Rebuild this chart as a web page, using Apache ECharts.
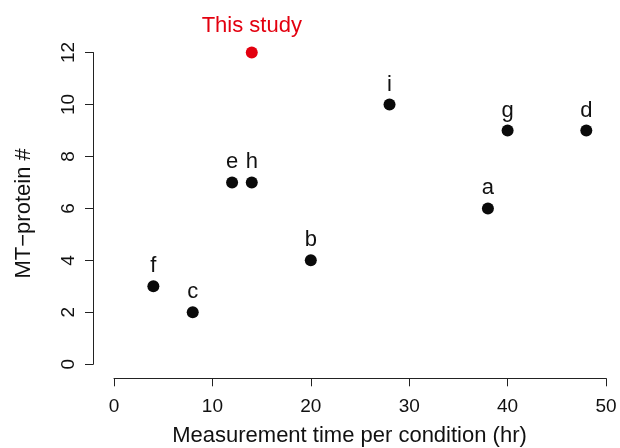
<!DOCTYPE html>
<html><head><meta charset="utf-8">
<script src="https://cdn.jsdelivr.net/npm/echarts@6/dist/echarts.min.js"></script>
<style>html,body{margin:0;padding:0;background:#fff}#c{width:620px;height:448px}</style>
</head><body><div id="c"></div>
<script>
const labels = ['a','b','c','d','e','f','g','h','i'];
const hours = [38, 20, 8, 48, 12, 4, 40, 14, 28];
const proteins = [6, 4, 2, 9, 7, 3, 9, 7, 10];
const studyLabel = 'This study';
const studyHours = 14;
const studyProteins = 12;
const xTicks = [0, 10, 20, 30, 40, 50];
const yTicks = [0, 2, 4, 6, 8, 10, 12];

const font = '"Liberation Sans", Arial, sans-serif';
const chart = echarts.init(document.getElementById('c'), null, {renderer: 'canvas'});
chart.setOption({
  animation: false,
  grid: {left: 114, right: 14, top: 52.5, bottom: 83.7, containLabel: false, outerBoundsMode: 'none'},
  xAxis: {
    type: 'value', min: xTicks[0], max: xTicks[xTicks.length-1], interval: 10,
    offset: 14,
    name: 'Measurement time per condition (hr)', nameLocation: 'middle', nameGap: 47,
    nameTextStyle: {fontFamily: font, fontSize: 22, color: '#111', padding: [0, 21, 0, 0]},
    axisLine: {onZero: false, lineStyle: {color: '#222', width: 1}},
    axisTick: {length: 8, lineStyle: {color: '#222'}},
    axisLabel: {fontFamily: font, fontSize: 19, color: '#111', margin: 19},
    splitLine: {show: false}
  },
  yAxis: {
    type: 'value', min: yTicks[0], max: yTicks[yTicks.length-1], interval: 2,
    offset: 21,
    name: 'MT\u2212protein #', nameLocation: 'middle', nameGap: 58,
    nameTextStyle: {fontFamily: font, fontSize: 22, color: '#111', padding: [0, 10, 0, 0]},
    axisLine: {onZero: false, lineStyle: {color: '#222', width: 1}},
    axisTick: {length: 8, lineStyle: {color: '#222'}},
    axisLabel: {fontFamily: font, fontSize: 19, color: '#111', rotate: 90, margin: 15},
    splitLine: {show: false}
  },
  series: [
    {
      type: 'scatter', symbolSize: 12,
      itemStyle: {color: '#0a0a0a', opacity: 1},
      data: labels.map((l, i) => ({value: [hours[i], proteins[i]], name: l})),
      label: {show: true, position: 'top', distance: 3, formatter: p => p.name,
        fontFamily: font, fontSize: 22, color: '#111'}
    },
    {
      type: 'scatter', symbolSize: 12,
      itemStyle: {color: '#E3000F', opacity: 1},
      data: [{value: [studyHours, studyProteins], name: studyLabel}],
      label: {show: true, position: 'top', distance: 10, formatter: p => p.name,
        fontFamily: font, fontSize: 22, color: '#E3000F'}
    }
  ]
});
</script></body></html>
